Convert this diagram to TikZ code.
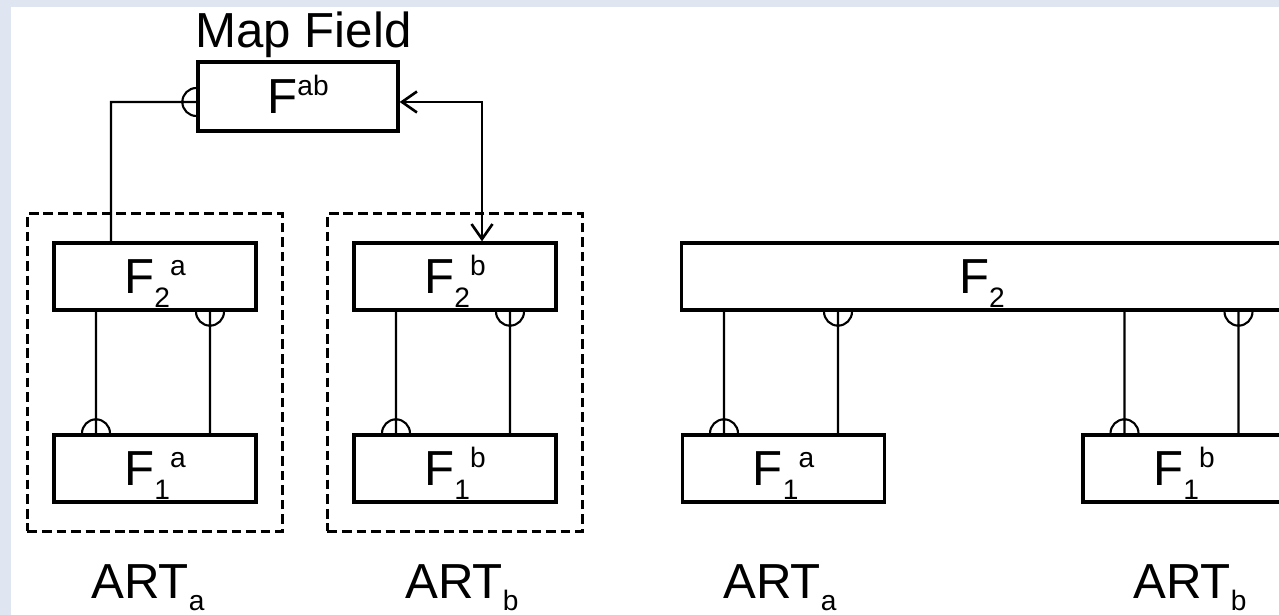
\documentclass[tikz,border=0pt]{standalone}
\usepackage{fontspec}
\setmainfont{Liberation Sans}
\usetikzlibrary{arrows.meta,calc,fit,positioning}
\definecolor{Frame}{HTML}{DFE6F1}
\newcommand{\supx}[1]{\raisebox{10pt}[0pt][0pt]{\fontsize{16}{16}\selectfont #1}}
\newcommand{\subx}[2][8pt]{\raisebox{-#1}[0pt][0pt]{\fontsize{16}{16}\selectfont #2}}

\begin{document}
\begin{tikzpicture}[x=1cm,y=1cm,
    box/.style={draw,line width=1.9pt,minimum width=4.04cm,minimum height=1.34cm,inner sep=0pt,font=\fontsize{28}{32}\selectfont},
    link/.style={line width=1.2pt},
    group/.style={draw,line width=1.8pt,dash pattern=on 5.5pt off 2.8pt,inner xsep=0.5cm,inner ysep=0.55cm},
    artname/.style={anchor=base west,inner sep=0pt,font=\fontsize{28}{32}\selectfont}]
    \useasboundingbox (0,0) rectangle (25.58,12.30);
    \fill[Frame] (0,0) rectangle (25.58,12.30);
    \fill[white] (0.22,0) rectangle (25.58,12.16);

    % map field
    \node[box,minimum width=4.00cm,minimum height=1.38cm] (fab) at (5.96,10.37) {F\supx{ab}};
    \node[anchor=base,font=\fontsize{28}{32}\selectfont] (mapname) at (6.07,11.35) {Map Field};

    % two ART modules, each in its own dashed frame
    \node[box] (f2a) at (3.10,6.77) {F\subx{2}\supx{a}};
    \node[box] (f1a) at (3.10,2.93) {F\subx{1}\supx{a}};
    \node[box] (f2b) at (9.10,6.77) {F\subx{2}\supx{b}};
    \node[box] (f1b) at (9.10,2.93) {F\subx{1}\supx{b}};
    \node[group,fit=(f2a)(f1a)] (arta) {};
    \node[group,fit=(f2b)(f1b)] (artb) {};

    \foreach \hi/\lo in {f2a/f1a,f2b/f1b}{
      \draw[link] ([xshift=-1.18cm]\hi.south) -- ([xshift=-1.18cm]\lo.north) ++(0.28,0) arc[start angle=0,end angle=180,radius=0.28];
      \draw[link] ([xshift=1.10cm]\lo.north) -- ([xshift=1.10cm]\hi.south) ++(0.28,0) arc[start angle=0,end angle=-180,radius=0.28];
    }

    \coordinate (fabw) at ([yshift=-0.11cm]fab.west);
    \coordinate (fabe) at ([yshift=-0.11cm]fab.east);
    \draw[link] ([xshift=-0.88cm]f2a.north) |- (fabw) ++(0,0.28) arc[start angle=90,end angle=270,radius=0.28];
    \draw[line width=1.5pt,{Straight Barb[length=3mm,width=4.2mm]}-{Straight Barb[length=3mm,width=4.2mm]}] (fabe) -| ([xshift=0.54cm]f2b.north);

    % shared F2 layer
    \node[box,minimum width=12.02cm] (f2) at (19.64,6.77) {F\subx{2}};
    \node[box] (f1c) at (15.67,2.93) {F\subx{1}\supx{a}};
    \node[box] (f1d) at (23.68,2.93) {F\subx{1}\supx{b}};

    \foreach \lo in {f1c,f1d}{
      \draw[link] ([xshift=-1.19cm]\lo.north |- f2.south) -- ([xshift=-1.19cm]\lo.north) ++(0.28,0) arc[start angle=0,end angle=180,radius=0.28];
      \draw[link] ([xshift=1.09cm]\lo.north) -- ([xshift=1.09cm]\lo.north |- f2.south) ++(0.28,0) arc[start angle=0,end angle=-180,radius=0.28];
    }

    \node[artname] (artaname) at (1.82,0.32) {ART\subx[6.5pt]{a}};
    \node[artname] (artbname) at (8.10,0.32) {ART\subx[6.5pt]{b}};
    \node[artname] (artcname) at (14.46,0.32) {ART\subx[6.5pt]{a}};
    \node[artname] (artdname) at (22.66,0.32) {ART\subx[6.5pt]{b}};
  \end{tikzpicture}
\end{document}
